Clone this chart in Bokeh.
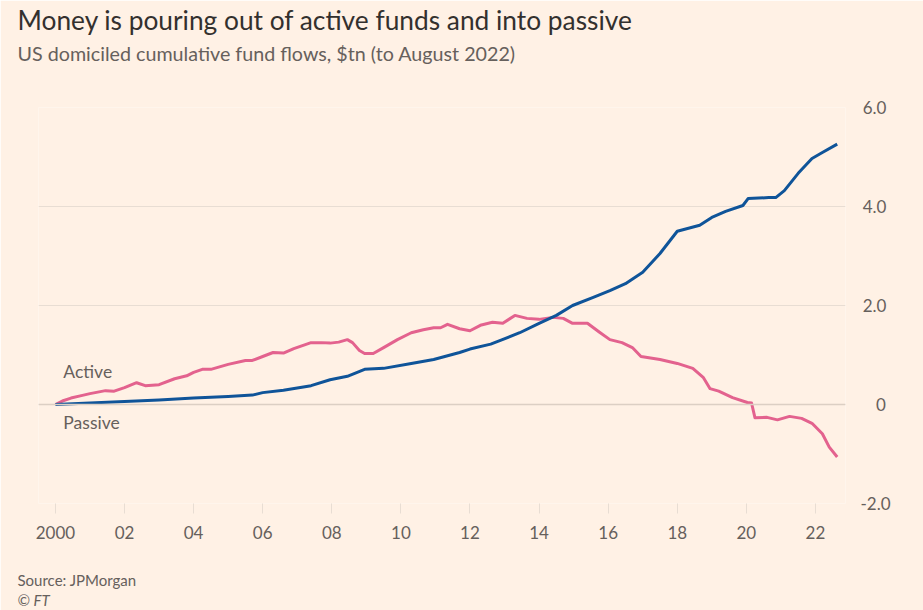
from bokeh.plotting import figure
from bokeh.models import Label, Span, FixedTicker, Range1d, Title
from bokeh.embed import file_html
from bokeh.resources import INLINE

# ---- data ----
active_year = [2000.0, 2000.2, 2000.45, 2000.75, 2001.0, 2001.45, 2001.7, 2002.0, 2002.35, 2002.6,
               2003.0, 2003.45, 2003.8, 2004.0, 2004.25, 2004.5, 2005.0, 2005.5, 2005.7, 2006.0,
               2006.3, 2006.6, 2006.9, 2007.4, 2007.7, 2007.95, 2008.2, 2008.45, 2008.6, 2008.8,
               2008.95, 2009.2, 2009.5, 2009.9, 2010.3, 2010.65, 2010.95, 2011.15, 2011.35, 2011.7,
               2012.0, 2012.3, 2012.65, 2012.95, 2013.3, 2013.65, 2014.0, 2014.4, 2014.7, 2014.97,
               2015.4, 2015.75, 2016.05, 2016.4, 2016.7, 2016.95, 2017.5, 2018.0, 2018.45, 2018.75,
               2018.95, 2019.2, 2019.6, 2020.03, 2020.15, 2020.25, 2020.6, 2020.9, 2021.25, 2021.6,
               2021.9, 2022.2, 2022.4, 2022.63]
active_value = [0.00, 0.07, 0.13, 0.18, 0.22, 0.28, 0.27, 0.34, 0.44, 0.38,
                0.40, 0.52, 0.58, 0.65, 0.71, 0.71, 0.81, 0.89, 0.89, 0.97,
                1.05, 1.04, 1.13, 1.25, 1.25, 1.24, 1.26, 1.31, 1.25, 1.09,
                1.03, 1.03, 1.15, 1.31, 1.45, 1.51, 1.55, 1.55, 1.62, 1.53,
                1.49, 1.60, 1.66, 1.64, 1.80, 1.74, 1.72, 1.76, 1.74, 1.64,
                1.64, 1.46, 1.31, 1.25, 1.15, 0.97, 0.91, 0.83, 0.73, 0.55,
                0.32, 0.27, 0.14, 0.04, 0.03, -0.27, -0.26, -0.31, -0.24, -0.28,
                -0.38, -0.59, -0.86, -1.06]

passive_year = [2000.0, 2001.0, 2002.0, 2003.0, 2004.0, 2005.0, 2005.7, 2006.0, 2006.6, 2007.4,
                2007.95, 2008.45, 2008.95, 2009.5, 2010.3, 2010.95, 2011.7, 2012.0, 2012.6, 2012.9,
                2013.44, 2014.0, 2014.5, 2014.97, 2015.55, 2016.05, 2016.5, 2017.0, 2017.5, 2018.0,
                2018.65, 2019.0, 2019.4, 2019.9, 2020.05, 2020.65, 2020.85, 2021.1, 2021.5, 2021.9,
                2022.2, 2022.63]
passive_value = [0.00, 0.03, 0.06, 0.09, 0.13, 0.16, 0.19, 0.24, 0.29, 0.38,
                 0.50, 0.57, 0.71, 0.73, 0.83, 0.91, 1.05, 1.12, 1.22, 1.30,
                 1.45, 1.64, 1.80, 2.00, 2.16, 2.30, 2.44, 2.67, 3.05, 3.50,
                 3.62, 3.78, 3.90, 4.02, 4.16, 4.18, 4.18, 4.32, 4.67, 4.97,
                 5.09, 5.26]

x_ticks = [2000, 2002, 2004, 2006, 2008, 2010, 2012, 2014, 2016, 2018, 2020, 2022]
x_tick_labels = ["2000", "02", "04", "06", "08", "10", "12", "14", "16", "18", "20", "22"]
y_ticks = [-2, 0, 2, 4, 6]
y_tick_labels = ["-2.0", "\u2009\u2007\u20080", "\u20092.0", "\u20094.0", "\u20096.0"]

title_text = "Money is pouring out of active funds and into passive"
subtitle_text = "US domiciled cumulative fund flows, $tn (to August 2022)"
source_text = "Source: JPMorgan"
copyright_text = "\u00a9 FT"

# ---- styling ----
BG = "#FFF1E5"
GRID = "#E8DDD3"
ZERO = "#DCCFC4"
TXT = "#66605C"
DARK = "#33302E"
PINK = "#E3628E"
BLUE = "#0F5499"
FONT = "Lato"

p = figure(width=923, height=610, output_backend="svg", toolbar_location=None,
           x_range=Range1d(1999.51, 2022.87), y_range=Range1d(-2.0, 6.0),
           y_axis_location="right",
           min_border_left=38, min_border_right=78, min_border_top=107, min_border_bottom=107)
p.background_fill_color = BG
p.border_fill_color = BG
p.outline_line_color = None

p.xgrid.grid_line_color = None
p.ygrid.grid_line_color = GRID
p.ygrid.grid_line_width = 1
p.yaxis.ticker = FixedTicker(ticks=y_ticks)
p.xaxis.ticker = FixedTicker(ticks=x_ticks)
p.xaxis.major_label_overrides = {t: l for t, l in zip(x_ticks, x_tick_labels)}
p.yaxis.major_label_overrides = {t: l for t, l in zip(y_ticks, y_tick_labels)}

for ax in (p.xaxis, p.yaxis):
    ax.axis_line_color = None
    ax.minor_tick_line_color = None
    ax.major_label_text_color = TXT
    ax.major_label_text_font = FONT
    ax.major_label_text_font_size = "17px"

p.xaxis.major_tick_line_color = GRID
p.xaxis.major_tick_out = 10
p.xaxis.major_tick_in = 0
p.xaxis.major_label_standoff = 12

p.yaxis.major_tick_line_color = None
p.yaxis.major_tick_out = 0
p.yaxis.major_tick_in = 0
p.yaxis.major_label_standoff = 15

p.add_layout(Span(location=0, dimension="width", line_color=ZERO, line_width=1.5))

p.line(active_year, active_value, line_color=PINK, line_width=3, line_join="round")
p.line(passive_year, passive_value, line_color=BLUE, line_width=3, line_join="round")

p.add_layout(Label(x=2000.23, y=0.67, text="Active", text_baseline="middle",
                   text_color=TXT, text_font=FONT, text_font_size="17.5px"))
p.add_layout(Label(x=2000.23, y=-0.37, text="Passive", text_baseline="middle",
                   text_color=TXT, text_font=FONT, text_font_size="17.5px"))


def spacer(gap):
    return Title(text=" ", text_font_size="1px", standoff=gap)


# above panels: first added is nearest the frame
p.add_layout(spacer(40), "above")
p.add_layout(Title(text=subtitle_text, align="left", offset=-21, text_color=TXT,
                   text_font=FONT, text_font_size="19.7px", text_font_style="normal",
                   standoff=0), "above")
p.add_layout(spacer(1), "above")
p.add_layout(Title(text=title_text, align="left", offset=-21, text_color=DARK,
                   text_font=FONT, text_font_size="26.3px", text_font_style="normal",
                   standoff=0), "above")

# below panels: first added is nearest the frame (after the x axis)
p.add_layout(spacer(24), "below")
p.add_layout(Title(text=source_text, align="left", offset=-21, text_color=TXT,
                   text_font=FONT, text_font_size="15px", text_font_style="normal",
                   standoff=0), "below")
p.add_layout(Title(text=copyright_text, align="left", offset=-21, text_color=TXT,
                   text_font=FONT, text_font_size="15px", text_font_style="italic",
                   standoff=0), "below")

open("out.html", "w").write(file_html(p, INLINE))
